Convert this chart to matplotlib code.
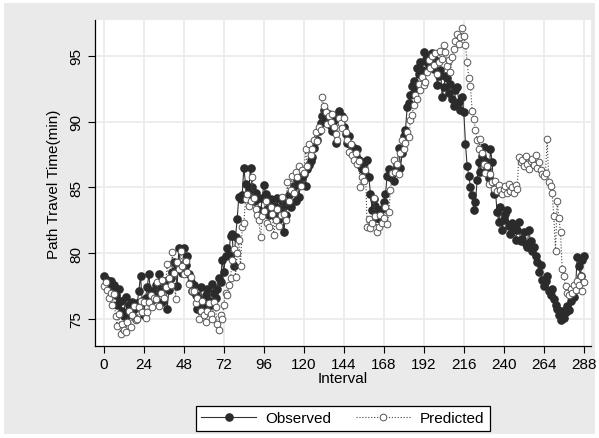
import numpy as np
import matplotlib
matplotlib.use("Agg")
import matplotlib.pyplot as plt
from matplotlib.patches import Rectangle

plt.rcParams['font.family'] = ['Liberation Sans Narrow', 'Liberation Sans', 'DejaVu Sans']

# data, one value per interval (0..288)
observed = [
    78.3, 77.6, 78.0, 77.5, 77.9, 77.2, 77.6, 76.8, 76.1, 77.3, 76.4, 75.6,
    75.2, 76.7, 75.3, 76.1, 75.5, 76.3, 75.8, 75.0, 76.2, 77.1, 78.3, 76.4,
    75.3, 76.6, 77.4, 78.4, 77.0, 77.1, 76.5, 77.6, 77.0, 78.4, 77.3, 76.3,
    77.9, 77.5, 75.8, 77.2, 78.1, 78.6, 79.3, 78.7, 77.5, 80.4, 79.0, 78.5,
    80.4, 79.1, 79.8, 78.4, 77.8, 77.1, 77.6, 76.8, 75.8, 76.5, 77.4, 76.2,
    75.9, 76.8, 77.3, 76.4, 76.1, 77.7, 77.0, 76.6, 77.3, 78.1, 77.8, 79.5,
    78.6, 79.8, 80.4, 79.9, 81.3, 81.5, 79.0, 81.2, 82.6, 84.3, 84.1, 84.4,
    86.5, 85.3, 84.4, 84.8, 86.5, 85.0, 84.0, 84.6, 84.1, 83.3, 83.0, 84.2,
    85.2, 84.5, 83.4, 82.9, 84.1, 83.7, 82.9, 83.5, 84.2, 82.6, 83.4, 84.0,
    81.6, 82.9, 83.7, 84.4, 83.5, 84.7, 85.1, 84.0, 85.6, 84.3, 85.2, 85.8,
    86.0, 85.1, 86.4, 86.7, 87.0, 87.3, 88.0, 88.5, 88.6, 89.3, 89.9, 90.4,
    90.9, 90.2, 90.2, 90.6, 89.7, 89.3, 90.1, 88.4, 90.5, 90.8, 90.1, 90.4,
    89.6, 89.1, 88.4, 88.9, 88.2, 87.6, 88.0, 87.4, 87.9, 87.1, 86.7, 86.4,
    86.9, 86.0, 87.1, 85.8, 84.5, 83.3, 84.1, 83.6, 82.7, 83.1, 82.6, 83.4,
    83.9, 84.5, 85.9, 86.4, 85.8, 86.0, 85.5, 86.3, 86.6, 88.0, 86.5, 87.6,
    88.9, 89.4, 91.1, 91.4, 92.0, 92.7, 93.1, 92.4, 94.1, 93.6, 94.5, 93.9,
    95.3, 94.6, 95.0, 94.2, 94.8, 95.2, 94.0, 94.7, 92.8, 93.5, 93.9, 91.9,
    92.6, 93.5, 93.3, 92.2, 92.9, 91.7, 91.2, 92.4, 92.6, 91.5, 90.9, 91.9,
    90.7, 88.3, 86.6, 85.9, 85.0, 84.4, 83.3, 83.9, 85.6, 86.9, 86.2, 87.4,
    88.1, 87.0, 86.4, 85.7, 87.9, 86.9, 84.5, 84.6, 83.1, 82.4, 83.5, 81.8,
    82.5, 83.0, 83.3, 82.1, 81.5, 82.3, 81.9, 81.0, 81.8, 82.4, 80.9, 81.1,
    81.6, 80.7, 80.5, 81.8, 80.9, 80.2, 80.5, 79.8, 79.3, 78.6, 79.1, 78.0,
    77.5, 77.9, 78.3, 77.1, 76.8, 77.3, 76.5, 76.1, 75.8, 75.3, 74.9, 75.6,
    75.1, 75.5, 76.0, 75.7, 76.4, 76.9, 76.7, 77.3, 79.7, 79.0, 78.3, 79.5,
    79.8,
]
predicted = [
    77.5, 77.8, 77.2, 76.6, 77.0, 76.1, 76.9, 75.2, 74.5, 75.4, 73.9, 74.6,
    74.2, 74.0, 74.8, 75.6, 74.4, 75.3, 76.0, 74.9, 75.0, 75.9, 76.4, 75.5,
    76.3, 75.1, 75.5, 76.3, 76.8, 75.9, 76.6, 76.5, 77.8, 76.0, 77.0, 78.0,
    76.6, 77.4, 79.2, 78.1, 77.6, 80.1, 78.5, 76.5, 79.3, 78.8, 80.2, 79.0,
    78.4, 79.4, 78.6, 77.7, 78.2, 77.1, 77.1, 76.2, 76.6, 75.0, 75.6, 76.4,
    75.3, 74.8, 75.6, 76.2, 75.4, 75.0, 76.3, 75.9, 74.6, 74.2, 75.3, 75.0,
    76.1, 77.0, 76.8, 77.6, 78.1, 79.5, 80.3, 78.2, 80.0, 81.0, 79.0, 82.0,
    82.3, 84.1, 84.5, 83.6, 84.0, 85.8, 84.2, 83.4, 82.9, 82.5, 81.2, 82.8,
    83.2, 84.0, 82.3, 82.0, 83.5, 83.0, 81.4, 82.5, 83.4, 82.1, 82.9, 84.3,
    83.0, 82.5, 85.4, 84.0, 84.8, 85.9, 84.6, 86.2, 85.8, 86.6, 85.1, 86.3,
    86.1, 87.9, 86.6, 88.3, 87.5, 87.9, 88.6, 89.2, 88.5, 89.6, 89.4, 91.9,
    91.2, 90.7, 89.8, 90.4, 90.0, 90.6, 89.6, 89.1, 88.6, 90.3, 89.9, 89.5,
    90.3, 89.2, 88.6, 87.7, 88.3, 87.5, 87.1, 87.6, 86.8, 87.0, 85.0, 85.8,
    85.5, 86.3, 82.0, 82.6, 81.9, 82.3, 84.2, 82.8, 81.6, 82.0, 82.9, 82.3,
    82.7, 83.5, 82.2, 83.1, 84.8, 86.1, 87.1, 86.2, 86.8, 86.0, 87.6, 88.6,
    87.9, 88.4, 89.2, 88.8, 90.1, 90.5, 91.3, 92.0, 91.7, 92.9, 92.4, 93.4,
    92.8, 93.0, 93.8, 94.7, 94.1, 95.0, 94.3, 95.2, 93.6, 94.5, 95.4, 94.8,
    95.8, 95.3, 94.2, 94.7, 93.8, 94.9, 95.5, 96.1, 96.7, 95.9, 96.4, 97.1,
    96.5, 95.8, 94.5, 93.3, 92.7, 90.8, 90.2, 89.4, 88.6, 87.9, 88.7, 87.6,
    86.8, 86.1, 86.6, 85.3, 86.0, 85.4, 84.9, 85.5, 84.7, 85.2, 84.8, 84.5,
    84.9, 85.1, 84.6, 85.3, 84.7, 85.0, 84.6, 85.2, 84.9, 87.3, 86.9, 87.1,
    86.6, 87.4, 86.8, 86.4, 87.0, 87.2, 86.7, 87.5, 86.5, 86.9, 86.3, 86.0,
    85.9, 86.1, 88.7, 85.4, 85.1, 84.6, 82.8, 80.2, 84.0, 82.7, 81.6, 78.8,
    78.3, 77.5, 77.0, 76.8, 77.3, 77.0, 77.6, 77.2, 77.9, 77.6, 78.3, 77.1,
    77.8,
]
interval = np.arange(len(observed))
xticks = list(range(0, 289, 24))
yticks = [75, 80, 85, 90, 95]

fig = plt.figure(figsize=(5.99, 4.39), dpi=100, facecolor='white')
# stata-style gray graph region with thin white margin
fig.patches.append(Rectangle((4 / 599, 4 / 439), 591 / 599, 431 / 439,
                             transform=fig.transFigure, facecolor='#eaeaea',
                             edgecolor='none', zorder=-10))

ax = fig.add_axes([95 / 599, 1 - 347 / 439, 496 / 599, 326 / 439])
ax.set_facecolor('white')

ax.plot(interval, observed, color='#333333', lw=0.8, ls='-',
        marker='o', ms=5.2, mfc='#2b2b2b', mec='#2b2b2b', label='Observed')
ax.plot(interval, predicted, color='#444444', lw=0.8, ls=':',
        marker='o', ms=4.8, mfc='white', mec='#555555', mew=0.7, label='Predicted')

ax.set_xlim(-5.3, 292.3)
ax.set_ylim(72.95, 97.73)
ax.set_xticks(xticks)
ax.set_yticks(yticks)
ax.grid(True, color='#ececec', lw=1.3)
ax.set_axisbelow(True)
for s in ['top', 'right']:
    ax.spines[s].set_visible(False)
for s in ['left', 'bottom']:
    ax.spines[s].set_color('black')
    ax.spines[s].set_linewidth(0.9)
ax.tick_params(axis='both', direction='out', length=5, width=0.8, labelsize=11, colors='black')
ax.tick_params(axis='x', pad=3)
for lbl in ax.get_yticklabels():
    lbl.set_rotation(90)
    lbl.set_va('center')

ax.set_xlabel('Interval', fontsize=11, labelpad=0)
ax.set_ylabel('Path Travel Time(min)', fontsize=11, labelpad=6)

fig.legend(loc='center', bbox_to_anchor=(343 / 599, 1 - 419.5 / 439), ncol=2,
           fancybox=False, edgecolor='black', framealpha=1, fontsize=11,
           handlelength=3.6, columnspacing=1.6, borderpad=0.35, handletextpad=0.6)
fig.legends[0].get_frame().set_linewidth(0.9)

fig.savefig('out.png', dpi=100, facecolor=fig.get_facecolor())
